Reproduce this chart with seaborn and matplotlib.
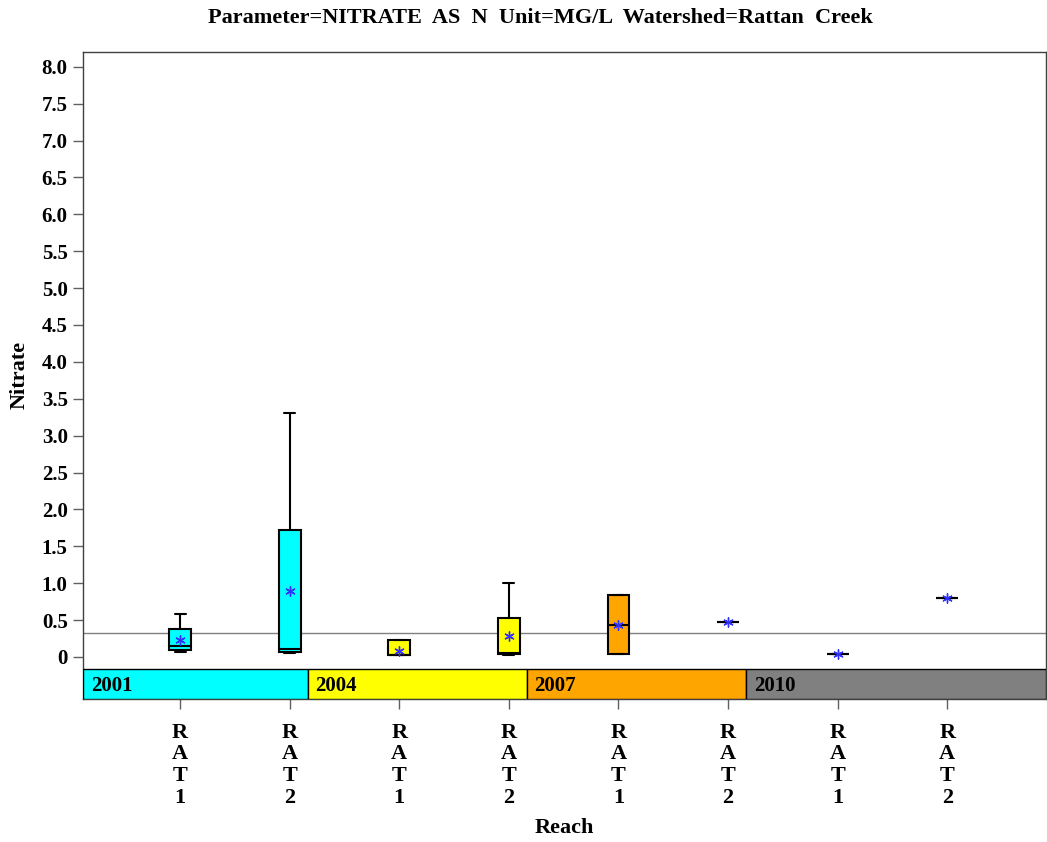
import numpy as np
import pandas as pd
import matplotlib
matplotlib.use("Agg")
import matplotlib.pyplot as plt
from matplotlib.patches import Rectangle
import seaborn as sns

# === Data (Nitrate, MG/L) ===
years = ["2001", "2001", "2004", "2004", "2007", "2007", "2010", "2010"]
reaches = ["RAT1", "RAT2", "RAT1", "RAT2", "RAT1", "RAT2", "RAT1", "RAT2"]
low_whisker = [0.07, 0.06, 0.03, 0.03, 0.04, 0.47, 0.04, 0.80]
q1 = [0.09, 0.07, 0.03, 0.04, 0.04, 0.47, 0.04, 0.80]
median = [0.15, 0.11, 0.03, 0.05, 0.43, 0.47, 0.04, 0.80]
q3 = [0.38, 1.72, 0.23, 0.53, 0.84, 0.47, 0.04, 0.80]
high_whisker = [0.58, 3.31, 0.23, 1.00, 0.84, 0.47, 0.04, 0.80]
means = [0.23, 0.89, 0.08, 0.28, 0.43, 0.47, 0.04, 0.80]
ref_value = 0.32

year_colors = {"2001": "#00ffff", "2004": "#ffff00", "2007": "#ffa500", "2010": "#808080"}
y_ticks = np.arange(0, 8.01, 0.5)

# five-number samples per box -> seaborn computes the same box / whiskers
keys = [f"{y} {r}" for y, r in zip(years, reaches)]
rows = []
for k, y, a, b, c, d, e in zip(keys, years, low_whisker, q1, median, q3, high_whisker):
    for v in (a, b, c, d, e):
        rows.append({"key": k, "year": y, "value": v})
df = pd.DataFrame(rows)

sns.set_style("white")
plt.rcParams["font.family"] = ["Liberation Serif", "DejaVu Serif"]
plt.rcParams["font.weight"] = "bold"
plt.rcParams["text.color"] = "black"
plt.rcParams["xtick.color"] = "#606060"
plt.rcParams["ytick.color"] = "#606060"
plt.rcParams["xtick.labelcolor"] = "black"
plt.rcParams["ytick.labelcolor"] = "black"

fig = plt.figure(figsize=(10.47, 8.42), dpi=100)
ax = fig.add_axes([0.0793, 0.1698, 0.9197, 0.7684])

sns.boxplot(data=df, x="key", y="value", hue="year", order=keys,
            palette=year_colors, saturation=1, dodge=False, width=0.2, whis=(0, 100),
            showfliers=False, linecolor="black", linewidth=1.5,
            legend=False, ax=ax)

pos = np.arange(len(keys))
ax.scatter(pos, means, marker=(6, 2, 0), s=45, color="#3030ff", linewidths=1, zorder=5)

ax.axhline(ref_value, color="#808080", linewidth=1, zorder=0.5)

ylo, yhi = -0.57, 8.20
ax.set_ylim(ylo, yhi)
ax.set_xlim(-0.885, 7.9)

# year block band at the bottom of the plot
band_top = -0.163
group_years = list(dict.fromkeys(years))
edges = [-0.885]
for gy in group_years[:-1]:
    last = max(i for i, y in enumerate(years) if y == gy)
    edges.append(last + 0.165)
edges.append(7.9)
for gy, x0, x1 in zip(group_years, edges[:-1], edges[1:]):
    ax.add_patch(Rectangle((x0, ylo), x1 - x0, band_top - ylo,
                           facecolor=year_colors[gy], edgecolor="black",
                           linewidth=1, zorder=3))
    ax.text(x0 + 0.07, (ylo + band_top) / 2 - 0.03, gy, fontsize=15,
            fontweight="bold", va="center", ha="left", zorder=4)

ax.set_yticks(y_ticks)
ax.set_yticklabels(["0" if t == 0 else f"{t:.1f}" for t in y_ticks], fontsize=15, fontweight="bold")
ax.set_xticks(pos)
ax.set_xticklabels(["\n".join(r) for r in reaches], fontsize=16, fontweight="bold",
                   linespacing=1.12)
ax.tick_params(axis="both", which="both", direction="out", length=7, width=1,
               left=True, bottom=True)
ax.tick_params(axis="y", pad=4)
ax.tick_params(axis="x", pad=10)
ax.set_xlabel("")
ax.set_ylabel("")
for sp in ax.spines.values():
    sp.set_color("#404040")
    sp.set_linewidth(1)

fig.text(0.516, 0.9786, "Parameter=NITRATE  AS  N  Unit=MG/L  Watershed=Rattan  Creek",
         ha="center", va="center", fontsize=16, fontweight="bold")
fig.text(0.019, 0.5546, "Nitrate", rotation=90, ha="center", va="center",
         fontsize=16, fontweight="bold")
fig.text(0.539, 0.0166, "Reach", ha="center", va="center", fontsize=16, fontweight="bold")

fig.savefig("out.png", dpi=100)
